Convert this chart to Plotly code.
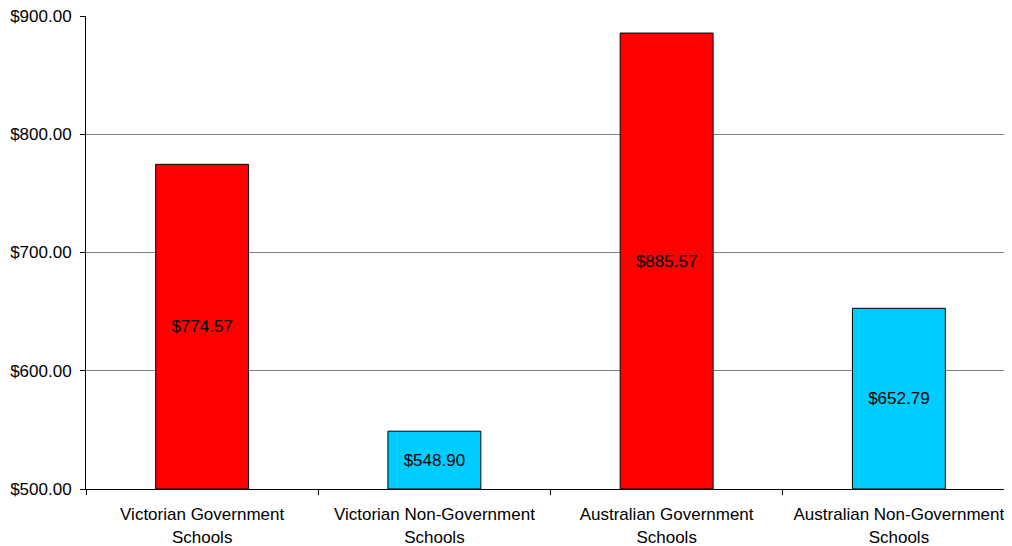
import plotly.graph_objects as go

categories = ["Victorian Government<br>Schools", "Victorian Non-Government<br>Schools",
              "Australian Government<br>Schools", "Australian Non-Government<br>Schools"]
values = [774.57, 548.90, 885.57, 652.79]
colors = ["#FF0000", "#00CCFF", "#FF0000", "#00CCFF"]
labels = ["$774.57", "$548.90", "$885.57", "$652.79"]
base_value = 500

fig = go.Figure(go.Bar(
    x=categories, y=[v - base_value for v in values], base=base_value,
    marker=dict(color=colors, line=dict(color="black", width=1)),
    text=labels, textposition="inside", insidetextanchor="middle",
    textangle=0, textfont=dict(color="black", size=17, family="Liberation Sans, Arial"),
    width=0.4,
))
fig.update_layout(
    width=1007, height=538,
    margin=dict(l=78, r=0, t=8, b=57),
    paper_bgcolor="white", plot_bgcolor="white",
    showlegend=False,
    font=dict(family="Liberation Sans, Arial", size=17, color="black"),
)
fig.update_xaxes(
    automargin=False,
    showline=True, linecolor="black", linewidth=1,
    ticks="outside", tickson="boundaries", ticklen=5, tickcolor="black",
    ticklabelstandoff=10,
    showgrid=False,
)
fig.update_yaxes(
    automargin=False,
    range=[500, 900], dtick=100, tickformat=",.2f", tickprefix="$",
    showline=True, linecolor="black", linewidth=1,
    ticks="outside", ticklen=5, tickcolor="black",
    ticklabelstandoff=5, ticklabeloverflow="allow",
    showgrid=True, gridcolor="#808080", gridwidth=1, zeroline=False,
)
fig.write_html("out.html")
